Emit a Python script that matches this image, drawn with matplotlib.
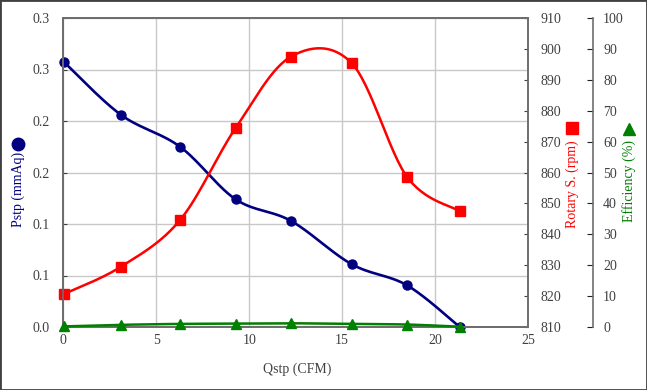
import numpy as np
import matplotlib
matplotlib.use("Agg")
import matplotlib.pyplot as plt
from matplotlib.lines import Line2D
from matplotlib.patches import Rectangle

plt.rcParams['font.family'] = ['Liberation Serif', 'DejaVu Serif']
plt.rcParams['font.size'] = 10

# ---- data ----
qstp = [0.05, 3.1, 6.28, 9.27, 12.25, 15.51, 18.49, 21.33]
pstp = [0.257, 0.206, 0.175, 0.124, 0.103, 0.061, 0.0405, 0.0]
rpm = [820.7, 829.5, 844.6, 874.4, 897.5, 895.4, 858.6, 847.5]
eff = [0.2, 0.7, 1.0, 1.1, 1.2, 1.0, 0.8, 0.1]

x_ticks = [0, 5, 10, 15, 20, 25]
p_ticks = [0.0, 0.05, 0.10, 0.15, 0.20, 0.25, 0.30]
p_labels = ['0.0', '0.1', '0.1', '0.2', '0.2', '0.3', '0.3']
rpm_ticks = list(range(810, 911, 10))
eff_ticks = list(range(0, 101, 10))

NAVY = '#000080'
RED = '#FF0000'
GREEN = '#008000'
TXT = '#404040'
SPINE = '#6e6e6e'

W, H = 647, 390
fig = plt.figure(figsize=(W / 100, H / 100), dpi=100)
L, R, T, B = 63.3, 528, 18, 327
fig.subplots_adjust(left=L / W, right=R / W, top=1 - T / H, bottom=1 - B / H)
ax = fig.add_subplot(111)
ax2 = ax.twinx()
ax3 = ax.twinx()

ax.set_xlim(0, 25)
ax.set_ylim(0, 0.3)
ax2.set_ylim(810, 910)
ax3.set_ylim(0, 100)

ax.set_xticks(x_ticks)
ax.set_yticks(p_ticks)
ax.set_yticklabels(p_labels)
ax2.set_yticks(rpm_ticks)
ax3.set_yticks(eff_ticks)

ax.grid(True, color='#c8c8c8', linewidth=1.0)
ax.set_axisbelow(True)

for a in (ax, ax2, ax3):
    for s in a.spines.values():
        s.set_color(SPINE)
        s.set_linewidth(1.2)

ax.tick_params(axis='x', length=0, pad=5, colors=TXT, labelsize=10)
ax.tick_params(axis='y', direction='in', length=3, pad=10, colors=TXT, labelsize=10)
ax2.tick_params(axis='y', direction='in', length=3, pad=9, colors=TXT, labelsize=10)
ax3.spines['right'].set_position(('axes', (592.7 - L) / (R - L)))
ax3.tick_params(axis='y', direction='in', length=4, pad=7.5, colors=TXT, labelsize=10)
ax3.tick_params(axis='y', color='#202020')


def smooth(a, x, y, n=30):
    pts = a.transData.transform(np.column_stack([x, y]))
    P = np.vstack([pts[0], pts, pts[-1]])
    segs = []
    t = np.linspace(0, 1, n)[:, None]
    for i in range(1, len(P) - 2):
        p0, p1, p2, p3 = P[i - 1], P[i], P[i + 1], P[i + 2]
        c1 = p1 + (p2 - p0) / 6
        c2 = p2 - (p3 - p1) / 6
        seg = (1 - t) ** 3 * p1 + 3 * (1 - t) ** 2 * t * c1 + 3 * (1 - t) * t ** 2 * c2 + t ** 3 * p2
        segs.append(seg)
    c = np.vstack(segs)
    c = a.transData.inverted().transform(c)
    return c[:, 0], c[:, 1]


cx, cy = smooth(ax, qstp, pstp)
ax.plot(cx, cy, color=NAVY, lw=1.9, clip_on=False, zorder=3)
ax.plot(qstp, pstp, 'o', color=NAVY, ms=6.5, clip_on=False, zorder=4)

cx, cy = smooth(ax2, qstp, rpm)
ax2.plot(cx, cy, color=RED, lw=1.8, clip_on=False, zorder=3)
ax2.plot(qstp, rpm, 's', color=RED, ms=6.5, clip_on=False, zorder=4)

cx, cy = smooth(ax3, qstp, eff)
ax3.plot(cx, cy, color=GREEN, lw=1.8, clip_on=False, zorder=3)
ax3.plot(qstp, eff, '^', color=GREEN, ms=7, clip_on=False, zorder=4)

# axis titles
fig.text(297 / W, 1 - 369 / H, 'Qstp (CFM)', ha='center', va='center', color=TXT, fontsize=10)
fig.text(18 / W, 1 - 189 / H, 'Pstp (mmAq)', ha='center', va='center', rotation=90, color=NAVY, fontsize=10)
fig.add_artist(Line2D([17.5 / W], [1 - 144 / H], transform=fig.transFigure, marker='o', ms=9, color=NAVY, ls='none'))
fig.text(572.5 / W, 1 - 184 / H, 'Rotary S. (rpm)', ha='center', va='center', rotation=90, color=RED, fontsize=10)
fig.add_artist(Line2D([571.7 / W], [1 - 127.5 / H], transform=fig.transFigure, marker='s', ms=8.5, color=RED, ls='none'))
fig.text(629 / W, 1 - 181 / H, 'Efficiency (%)', ha='center', va='center', rotation=90, color=GREEN, fontsize=10)
fig.add_artist(Line2D([629 / W], [1 - 129 / H], transform=fig.transFigure, marker='^', ms=9, color=GREEN, ls='none'))

fig.patches.append(Rectangle((0, 0), 1, 1, transform=fig.transFigure, fill=False, lw=2, ec='#404040'))

fig.savefig('out.png', dpi=100)
